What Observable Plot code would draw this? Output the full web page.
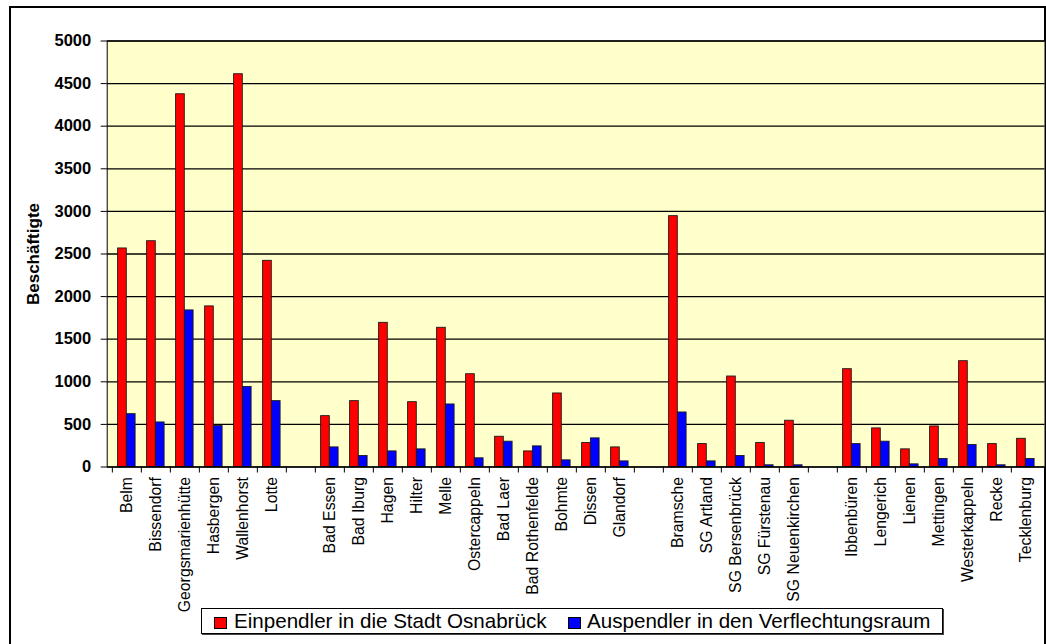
<!DOCTYPE html>
<html><head><meta charset="utf-8">
<script src="https://cdn.jsdelivr.net/npm/d3@7"></script>
<script src="https://cdn.jsdelivr.net/npm/@observablehq/plot@0.6"></script>
<style>
html,body{margin:0;padding:0;background:#fff;}
#wrap{position:relative;width:1046px;height:644px;overflow:hidden;font-family:"Liberation Sans",Arial,sans-serif;}
#frame{position:absolute;left:9px;top:6px;width:1037px;height:700px;border:2px solid #000;box-sizing:border-box;}
#chart{position:absolute;left:0;top:0;}
#legend{position:absolute;left:201px;top:608px;width:742px;height:26px;border:1px solid #000;box-sizing:border-box;background:#fff;box-shadow:1px 1px 0 #444;}
.sw{position:absolute;top:8px;width:13px;height:12px;border:1px solid #000;box-sizing:border-box;}
.lt{position:absolute;top:0;font-size:20.6px;line-height:24px;white-space:nowrap;color:#000;}
</style></head>
<body>
<div id="wrap">
  <div id="frame"></div>
  <div id="chart"></div>
  <div id="legend">
    <div class="sw" id="sw1" style="left:12px"></div><div class="lt" id="lt1" style="left:32px"></div>
    <div class="sw" id="sw2" style="left:366px"></div><div class="lt" id="lt2" style="left:385px"></div>
  </div>
</div>
<script>
// Categories (four regional groups, separated by empty slots)
const groupA = ["Belm","Bissendorf","Georgsmarienhütte","Hasbergen","Wallenhorst","Lotte"];
const groupB = ["Bad Essen","Bad Iburg","Hagen","Hilter","Melle","Ostercappeln","Bad Laer","Bad Rothenfelde","Bohmte","Dissen","Glandorf"];
const groupC = ["Bramsche","SG Artland","SG Bersenbrück","SG Fürstenau","SG Neuenkirchen"];
const groupD = ["Ibbenbüren","Lengerich","Lienen","Mettingen","Westerkappeln","Recke","Tecklenburg"];

// Series values (same order as the groups above)
const einpendler = [2565,2650,4375,1885,4610,2420,
                    597,773,1692,761,1634,1089,355,183,863,281,230,
                    2944,269,1062,281,543,
                    1148,453,207,476,1242,269,331];
const auspendler = [620,523,1838,480,940,773,
                    230,129,183,207,734,102,297,242,78,336,66,
                    640,66,129,20,20,
                    269,297,31,94,258,20,94];

const seriesNames = ["Einpendler in die Stadt Osnabrück","Auspendler in den Verflechtungsraum"];
const seriesColors = ["#FF0000","#0000FF"];
const yTicks = [0,500,1000,1500,2000,2500,3000,3500,4000,4500,5000];
const yTitle = "Beschäftigte";

const gaps = ["_gap1","_gap2","_gap3"];
const domain = [...groupA, gaps[0], ...groupB, gaps[1], ...groupC, gaps[2], ...groupD];
const orte = [...groupA, ...groupB, ...groupC, ...groupD];
const rows = orte.map((o,i)=>({ort:o, ein:einpendler[i], aus:auspendler[i]}));

const W=1046, H=644, mL=106.7, mR=1.5, mT=40.5, mB=177.5;
const bw = (W-mL-mR)/domain.length;
const font = "'Liberation Sans', Arial, sans-serif";

const chart = Plot.plot({
  width:W, height:H, marginLeft:mL, marginRight:mR, marginTop:mT, marginBottom:mB,
  style:{fontFamily:font, background:"transparent", overflow:"visible", color:"#000"},
  x:{type:"band", domain, padding:0},
  y:{domain:[0,5000]},
  marks:[
    Plot.frame({fill:"#FFFFCC"}),
    Plot.ruleY(yTicks.slice(1), {stroke:"#000", strokeWidth:1.3}),
    Plot.barY(rows, {x:"ort", y:"ein", fill:seriesColors[0], stroke:"#1a1a1a", strokeWidth:0.9, insetLeft:5.6, insetRight:bw-14.6}),
    Plot.barY(rows, {x:"ort", y:"aus", fill:seriesColors[1], stroke:"#1a1a1a", strokeWidth:0.9, insetLeft:14.4, insetRight:bw-23.4}),
    Plot.ruleY([0], {stroke:"#000", strokeWidth:1.3}),
    Plot.frame({stroke:"#000", strokeWidth:1}),
    Plot.axisY({ticks:yTicks, tickSize:6, tickPadding:10, fontSize:16.5, fontWeight:"bold", label:null, tickFormat:d=>String(d)}),
    Plot.axisX({tickSize:0, tickPadding:10, tickRotate:-90, fontSize:15.8, label:null, tickFormat:d=>d.startsWith("_")?"":d}),
    Plot.axisX({tickSize:6, dx:-bw/2, label:null, tickFormat:()=>""}),
    Plot.text([yTitle], {frameAnchor:"left", dx:-74, rotate:-90, textAnchor:"middle", fontSize:17, fontWeight:"bold", text:d=>d})
  ]
});
document.getElementById("chart").appendChild(chart);
document.getElementById("sw1").style.background = seriesColors[0];
document.getElementById("sw2").style.background = seriesColors[1];
document.getElementById("lt1").textContent = seriesNames[0];
document.getElementById("lt2").textContent = seriesNames[1];
</script>
</body></html>
